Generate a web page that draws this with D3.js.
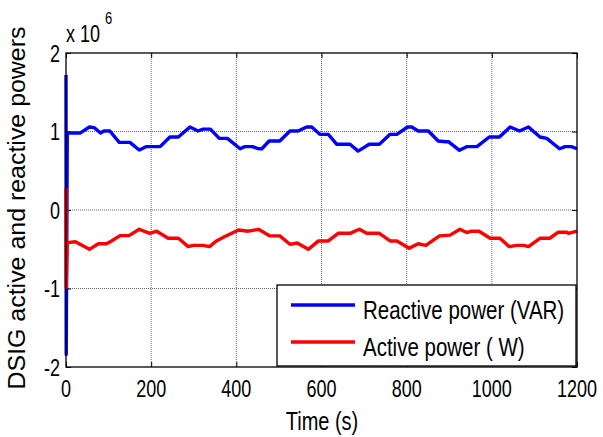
<!DOCTYPE html>
<html><head><meta charset="utf-8">
<script src="https://cdn.jsdelivr.net/npm/d3@7/dist/d3.min.js"></script>
<style>
html,body{margin:0;padding:0;background:#fff;}
text{font-family:"Liberation Sans",Arial,sans-serif;fill:#000;}
</style></head>
<body><svg id="c" width="603" height="437"></svg>
<script>
// Data (values in units of 10^6)
const xTicks = [0, 200, 400, 600, 800, 1000, 1200];
const yTicks = [-2, -1, 0, 1, 2];
const seriesNames = ["Reactive power (VAR)", "Active power ( W)"];
const seriesColors = ["#0000ff", "#ff0000"];

const reactiveTime = [0,0.5,3,33,55,66,81,89,103,125,150,172,188,221,244,264,291,310,322,339,360,379,409,420,438,452,460,477,502,526,545,565,577,596,616,636,667,686,712,736,761,777,802,812,827,851,874,892,898,924,941,965,994,1018,1043,1065,1086,1113,1129,1159,1172,1187,1200];
const reactiveValue = [1.72,-1.84,0.98,0.98,1.057,1.05,0.98,1.006,1.006,0.862,0.862,0.764,0.807,0.807,0.93,0.93,1.057,1.006,1.03,1.03,0.913,0.913,0.78,0.807,0.807,0.78,0.78,0.879,0.879,1.006,1.006,1.057,1.057,0.964,0.964,0.837,0.837,0.75,0.837,0.837,0.964,0.964,1.057,1.057,1.006,1.006,0.879,0.87,0.87,0.76,0.807,0.807,0.93,0.93,1.057,1.006,1.057,0.93,0.913,0.78,0.807,0.807,0.78];

const activeTime = [0,0.5,3,22,55,76,95,107,127,148,172,197,213,240,264,287,299,322,337,353,372,405,428,452,479,502,526,543,569,593,616,639,667,689,706,736,761,777,806,827,845,877,902,925,941,952,970,996,1019,1041,1058,1075,1086,1113,1136,1156,1176,1180,1200];
const activeValue = [0.28,-0.99,-0.416,-0.405,-0.501,-0.43,-0.43,-0.394,-0.327,-0.327,-0.246,-0.297,-0.27,-0.36,-0.36,-0.467,-0.45,-0.45,-0.467,-0.394,-0.34,-0.255,-0.27,-0.246,-0.33,-0.33,-0.437,-0.42,-0.501,-0.394,-0.394,-0.297,-0.297,-0.246,-0.297,-0.297,-0.394,-0.394,-0.488,-0.43,-0.45,-0.33,-0.32,-0.246,-0.287,-0.27,-0.27,-0.36,-0.36,-0.467,-0.45,-0.45,-0.467,-0.36,-0.36,-0.283,-0.283,-0.297,-0.27];

const svg = d3.select("#c");
const L = 66, R = 577, T = 53, B = 367;
const x = d3.scaleLinear().domain([0, 1200]).range([L, R]);
const y = d3.scaleLinear().domain([-2, 2]).range([B, T]);
const SY = 1.3;

// grid
const g = svg.append("g");
g.selectAll(".vg").data(xTicks.slice(1, -1)).enter().append("line")
  .attr("x1", d => x(d)).attr("x2", d => x(d)).attr("y1", T).attr("y2", B)
  .attr("stroke", "#666").attr("stroke-width", 1).attr("stroke-dasharray", "1,1");
g.selectAll(".hg").data(yTicks.slice(1, -1)).enter().append("line")
  .attr("y1", d => y(d)).attr("y2", d => y(d)).attr("x1", L).attr("x2", R)
  .attr("stroke", "#666").attr("stroke-width", 1).attr("stroke-dasharray", "1,1");

// inner ticks (MATLAB style) via axes
const tl = 5;
svg.append("g").attr("transform", `translate(0,${B})`)
  .call(d3.axisTop(x).tickValues(xTicks).tickSize(tl).tickFormat(""))
  .call(a => a.select(".domain").remove());
svg.append("g").attr("transform", `translate(0,${T})`)
  .call(d3.axisBottom(x).tickValues(xTicks).tickSize(tl).tickFormat(""))
  .call(a => a.select(".domain").remove());
svg.append("g").attr("transform", `translate(${L},0)`)
  .call(d3.axisRight(y).tickValues(yTicks).tickSize(tl).tickFormat(""))
  .call(a => a.select(".domain").remove());
svg.append("g").attr("transform", `translate(${R},0)`)
  .call(d3.axisLeft(y).tickValues(yTicks).tickSize(tl).tickFormat(""))
  .call(a => a.select(".domain").remove());

// lines
const line = d3.line().x(d => x(d[0])).y(d => y(d[1]));
const reactive = reactiveTime.map((t, i) => [t, reactiveValue[i]]);
const active = activeTime.map((t, i) => [t, activeValue[i]]);
[reactive, active].forEach((data, i) => {
  svg.append("path").datum(data).attr("d", line).attr("fill", "none")
    .attr("stroke", seriesColors[i]).attr("stroke-width", 3.4)
    .attr("stroke-linejoin", "round");
});

// frame
svg.append("rect").attr("x", L).attr("y", T).attr("width", R - L).attr("height", B - T)
  .attr("fill", "none").attr("stroke", "#000").attr("stroke-width", 1.3);

// tick labels
svg.selectAll(".xl").data(xTicks).enter().append("text")
  .attr("transform", d => `translate(${x(d)},397) scale(1,${SY})`)
  .attr("text-anchor", "middle").attr("font-size", 18).text(d => d);
svg.selectAll(".yl").data(yTicks).enter().append("text")
  .attr("transform", d => `translate(60,${y(d) + 8.5}) scale(1,${SY})`)
  .attr("text-anchor", "end").attr("font-size", 18).text(d => d);

// exponent
svg.append("text").attr("transform", `translate(66,42) scale(1,${SY})`)
  .attr("font-size", 18).text("x 10");
svg.append("text").attr("transform", `translate(105,24) scale(1,${SY})`)
  .attr("font-size", 13).text("6");

// axis labels
svg.append("text").attr("transform", `translate(322,430) scale(1,${SY})`)
  .attr("text-anchor", "middle").attr("font-size", 20).text("Time (s)");
svg.append("text").attr("transform", `translate(25,208) rotate(-90)`)
  .attr("text-anchor", "middle").attr("font-size", 23)
  .attr("textLength", 363).attr("lengthAdjust", "spacingAndGlyphs")
  .text("DSIG active and reactive powers");

// legend
const lg = svg.append("g");
lg.append("rect").attr("x", 277).attr("y", 285).attr("width", 299).attr("height", 81)
  .attr("fill", "#fff").attr("stroke", "#000").attr("stroke-width", 1.3);
const ly = [305, 342];
seriesNames.forEach((n, i) => {
  lg.append("line").attr("x1", 291).attr("x2", 355).attr("y1", ly[i]).attr("y2", ly[i])
    .attr("stroke", seriesColors[i]).attr("stroke-width", 3.4);
  lg.append("text").attr("transform", `translate(363,${ly[i] + 14}) scale(1,${SY})`)
    .attr("font-size", 20.5).text(n);
});
</script></body></html>
